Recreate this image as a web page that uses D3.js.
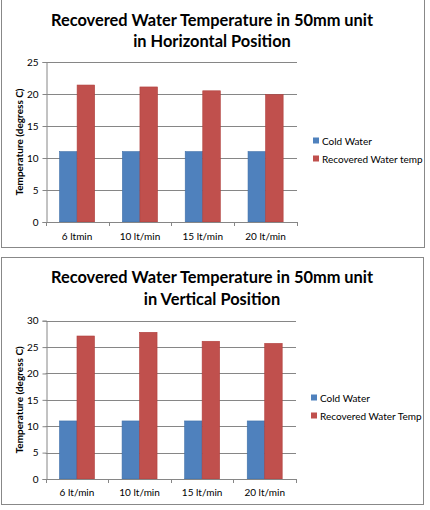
<!DOCTYPE html>
<html><head><meta charset="utf-8">
<script src="https://cdn.jsdelivr.net/npm/d3@7"></script>
<style>
html,body{margin:0;padding:0;background:#fff;}
svg text{font-family:Lato,"Open Sans",sans-serif;fill:#000;}
</style></head>
<body>
<svg id="c" width="430" height="510"></svg>
<script>
// ---- data ----
const categoriesH = ["6 ltmin", "10 lt/min", "15 lt/min", "20 lt/min"];
const coldH = [11, 11, 11, 11];
const recoveredH = [21.4, 21.1, 20.5, 19.9];
const yTicksH = [0, 5, 10, 15, 20, 25];
const seriesNamesH = ["Cold Water", "Recovered Water temp"];
const titleH = ["Recovered Water Temperature in 50mm unit", "in Horizontal Position"];

const categoriesV = ["6 lt/min", "10 lt/min", "15 lt/min", "20 lt/min"];
const coldV = [11, 11, 11, 11];
const recoveredV = [27.1, 27.8, 26.1, 25.7];
const yTicksV = [0, 5, 10, 15, 20, 25, 30];
const seriesNamesV = ["Cold Water", "Recovered Water Temp"];
const titleV = ["Recovered Water Temperature in 50mm unit", "in Vertical Position"];

const yAxisTitle = "Temperature (degress C)";
const colors = ["#4F81BD", "#C0504D"];
const strokes = ["#3f6fa8", "#b03f3c"];

const svg = d3.select("#c");

function drawChart(o) {
  const g = svg.append("g");
  // outer frame
  g.append("rect").attr("x", o.box[0] + 0.5).attr("y", o.box[1] + 0.5)
    .attr("width", o.box[2] - o.box[0]).attr("height", o.box[3] - o.box[1])
    .attr("fill", "#fff").attr("stroke", "#888").attr("stroke-width", 1);

  // title
  o.title.forEach((t, i) => {
    g.append("text").attr("x", 212).attr("y", o.titleY[i])
      .attr("text-anchor", "middle").attr("dominant-baseline", "central")
      .style("font-size", "16.4px").style("font-weight", "bold").text(t);
  });

  const x0 = d3.scaleBand().domain(o.categories).range([o.plot.left, o.plot.right]);
  const x1 = d3.scaleBand().domain([0, 1]).range([0, x0.bandwidth()]).paddingOuter(0.79);
  const y = d3.scaleLinear().domain([0, d3.max(o.ticks)]).range([o.plot.bottom, o.plot.top]);

  // gridlines
  g.append("g").selectAll("line").data(o.ticks).join("line")
    .attr("x1", o.plot.left).attr("x2", o.plot.right)
    .attr("y1", d => Math.round(y(d)) + 0.5).attr("y2", d => Math.round(y(d)) + 0.5)
    .attr("stroke", "#868686").attr("stroke-width", 1);

  // bars
  const series = [o.cold, o.rec];
  series.forEach((vals, si) => {
    g.append("g").selectAll("rect").data(vals).join("rect")
      .attr("x", (d, i) => x0(o.categories[i]) + x1(si))
      .attr("width", x1.bandwidth())
      .attr("y", d => y(d))
      .attr("height", d => y(0) - y(d))
      .attr("fill", colors[si]).attr("stroke", strokes[si]).attr("stroke-width", 0.6);
  });

  // y axis
  const ya = d3.axisLeft(y).tickValues(o.ticks).tickSize(4).tickPadding(4);
  const yg = g.append("g").attr("transform", `translate(${Math.round(o.plot.left) + 0.5},0)`).call(ya);
  yg.select(".domain").attr("stroke", "#868686");
  yg.selectAll(".tick line").attr("stroke", "#868686");
  yg.selectAll(".tick text").style("font-size", "10px").attr("fill", "#000");

  // x axis baseline & boundary ticks
  const bounds = o.categories.map(c => x0(c)).concat([x0.range()[1]]);
  g.append("line").attr("x1", o.plot.left).attr("x2", o.plot.right)
    .attr("y1", Math.round(y(0)) + 0.5).attr("y2", Math.round(y(0)) + 0.5).attr("stroke", "#868686");
  g.append("g").selectAll("line").data(bounds).join("line")
    .attr("x1", d => Math.round(d) + 0.5).attr("x2", d => Math.round(d) + 0.5)
    .attr("y1", y(0)).attr("y2", y(0) + 4).attr("stroke", "#868686");
  g.append("g").selectAll("text").data(o.categories).join("text")
    .attr("x", d => x0(d) + x0.bandwidth() / 2).attr("y", o.xLabelY)
    .attr("text-anchor", "middle").attr("dominant-baseline", "central")
    .style("font-size", "10px").text(d => d);

  // y axis title
  g.append("text")
    .attr("transform", `translate(19,${(o.plot.top + o.plot.bottom) / 2}) rotate(-90)`)
    .attr("text-anchor", "middle").attr("dominant-baseline", "central")
    .style("font-size", "10px").style("font-weight", "bold").text(yAxisTitle);

  // legend
  o.names.forEach((n, i) => {
    const ly = o.legendY[i];
    g.append("rect").attr("x", o.legendX).attr("y", ly - 3).attr("width", 6).attr("height", 6)
      .attr("fill", colors[i]);
    g.append("text").attr("x", o.legendX + 9).attr("y", ly).attr("dominant-baseline", "central")
      .style("font-size", "10px").text(n);
  });
}

drawChart({
  box: [1, -1, 424, 247], title: titleH, titleY: [19, 40],
  categories: categoriesH, cold: coldH, rec: recoveredH, ticks: yTicksH,
  plot: { left: 45.7, right: 297, top: 62, bottom: 222 },
  xLabelY: 236, names: seriesNamesH, legendX: 313, legendY: [140.5, 158.5]
});
drawChart({
  box: [1, 257, 423, 504], title: titleV, titleY: [276, 298],
  categories: categoriesV, cold: coldV, rec: recoveredV, ticks: yTicksV,
  plot: { left: 45.7, right: 296, top: 320.7, bottom: 479 },
  xLabelY: 492, names: seriesNamesV, legendX: 311, legendY: [397.5, 415.5]
});
</script>
</body></html>
